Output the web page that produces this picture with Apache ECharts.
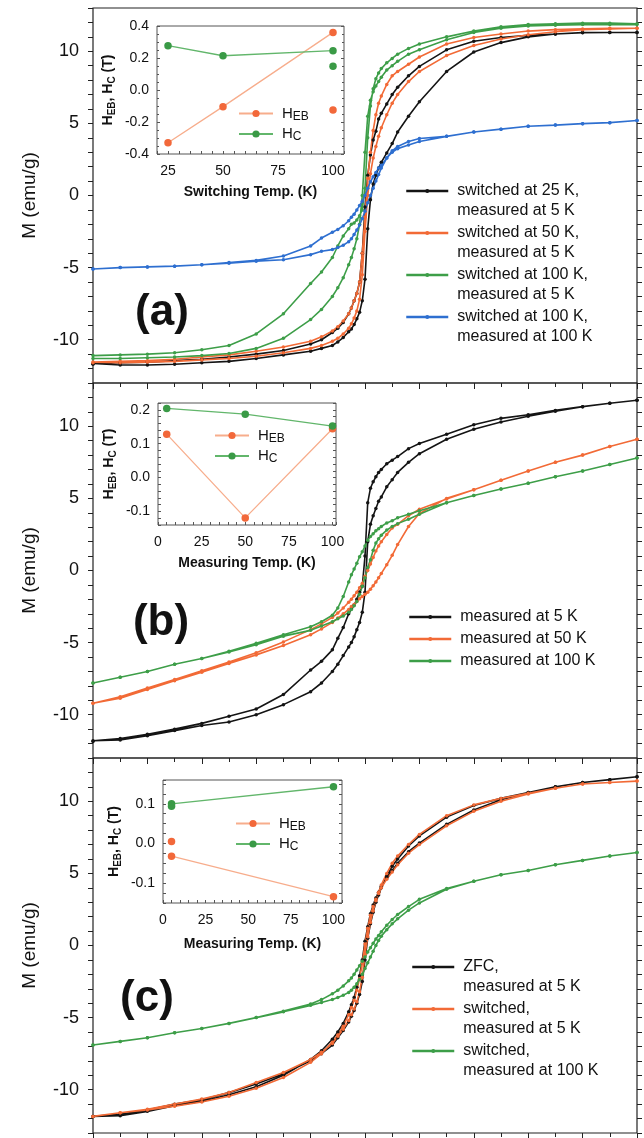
<!DOCTYPE html>
<html lang="en">
<head>
  <meta charset="UTF-8">
  <title>M-H loops</title>
  <style>
    html, body { margin: 0; padding: 0; background: #fff; }
    #main { width: 644px; height: 1138px; }
  </style>
  <script src="https://cdn.jsdelivr.net/npm/echarts@6/dist/echarts.min.js"></script>
</head>
<body>
  <div id="main"></div>
  <script>
    // field steps (T) of the descending branch, the ascending one runs back
    var fieldsDown = [5, 4.5, 4, 3.5, 3, 2.5, 2, 1.5, 1, 0.8, 0.6, 0.5, 0.4, 0.3, 0.25, 0.2, 0.15, 0.1, 0.05, 0,
      -0.05, -0.1, -0.15, -0.2, -0.25, -0.3, -0.4, -0.5, -0.6, -0.8, -1, -1.5, -2, -2.5, -3, -3.5, -4, -4.5, -5];
    var fieldsUp = fieldsDown.slice().reverse();

    // panel (a) – M (emu/g)
    var aBlackDown = [11.3, 11.3, 11.28, 11.2, 11.1, 10.95, 10.7, 10.1, 8.95, 8.3, 7.5, 7.0, 6.35, 5.7, 5.3, 4.45, 3.85, 2.8, 1.4, -0.8,
      -4.0, -6.0, -6.8, -7.3, -7.8, -8.2, -8.8, -9.2, -9.5, -10.0, -10.3, -10.75, -11.0, -11.2, -11.35, -11.45, -11.55, -11.6, -11.65];
    var aBlackUp = [-11.7, -11.75, -11.75, -11.7, -11.6, -11.5, -11.3, -11.05, -10.8, -10.6, -10.4, -10.15, -9.85, -9.45, -9.25, -8.95, -8.55, -8.1, -7.3, -5.8,
      -2.3, -0.3, 0.8, 1.4, 1.9, 2.3, 2.95, 3.6, 4.4, 5.5, 6.5, 8.6, 9.95, 10.6, 11.0, 11.2, 11.3, 11.3, 11.3];
    var aOrangeDown = [11.6, 11.6, 11.55, 11.5, 11.4, 11.2, 10.95, 10.5, 9.6, 9.1, 8.6, 8.3, 7.7, 6.9, 6.4, 5.6, 4.5, 3.0, 1.2, -1.5,
      -4.0, -6.0, -6.8, -7.3, -7.8, -8.2, -8.7, -9.1, -9.4, -9.8, -10.1, -10.5, -10.8, -11.05, -11.2, -11.35, -11.45, -11.5, -11.55];
    var aOrangeUp = [-11.6, -11.6, -11.55, -11.5, -11.4, -11.3, -11.15, -10.9, -10.6, -10.4, -10.1, -9.9, -9.6, -9.2, -8.9, -8.5, -8.0, -7.2, -5.5, -2.5,
      0.0, 1.5, 2.6, 3.4, 4.1, 4.7, 5.6, 6.4, 7.0, 7.9, 8.6, 9.7, 10.4, 10.85, 11.15, 11.35, 11.5, 11.55, 11.6];
    var aGreenDown = [11.9, 11.95, 11.95, 11.9, 11.85, 11.7, 11.4, 11.0, 10.5, 10.2, 9.8, 9.5, 9.2, 8.8, 8.5, 8.1, 7.4, 6.2, 4.0, 0.5,
      -1.0, -1.4, -1.7, -1.9, -2.0, -2.3, -2.8, -3.5, -4.3, -5.3, -6.1, -8.2, -9.6, -10.4, -10.7, -10.9, -11.0, -11.05, -11.1];
    var aGreenUp = [-11.3, -11.3, -11.25, -11.2, -11.1, -10.95, -10.6, -9.9, -8.6, -7.9, -7.0, -6.4, -5.7, -4.8, -4.3, -3.7, -3.0, -2.0, 0.0, 3.0,
      5.5, 6.6, 7.2, 7.6, 7.9, 8.2, 8.7, 9.0, 9.3, 9.8, 10.1, 10.8, 11.3, 11.6, 11.75, 11.8, 11.85, 11.85, 11.85];
    var aBlueDown = [5.2, 5.05, 4.98, 4.88, 4.8, 4.6, 4.4, 4.1, 3.75, 3.5, 3.25, 3.0, 2.6, 2.1, 1.9, 1.6, 1.3, 0.95, 0.5, 0.0,
      -0.4, -0.7, -1.0, -1.3, -1.5, -1.75, -2.1, -2.35, -2.55, -2.95, -3.5, -4.2, -4.5, -4.65, -4.8, -4.9, -4.95, -5.0, -5.1];
    var aBlueUp = [-5.1, -5.0, -4.95, -4.9, -4.8, -4.7, -4.55, -4.45, -4.1, -3.87, -3.75, -3.6, -3.45, -3.2, -3.0, -2.7, -2.4, -2.05, -1.6, -1.1,
      -0.5, 0.0, 0.5, 1.0, 1.45, 1.9, 2.6, 3.1, 3.4, 3.75, 3.95, 4.1, 4.4, 4.6, 4.8, 4.88, 4.98, 5.05, 5.2];

    // panel (b)
    var bBlackDown = [11.8, 11.6, 11.36, 11.1, 10.8, 10.55, 10.1, 9.45, 8.8, 8.45, 7.9, 7.65, 7.4, 7.0, 6.8, 6.5, 6.15, 5.7, 4.7, 1.0,
      -1.1, -1.5, -2.0, -2.4, -2.65, -3.0, -3.95, -4.7, -5.5, -6.3, -6.9, -8.6, -9.6, -10.1, -10.6, -11.0, -11.35, -11.65, -11.8];
    var bBlackUp = [-11.85, -11.75, -11.45, -11.1, -10.75, -10.5, -10.0, -9.3, -8.4, -7.8, -7.0, -6.5, -5.9, -5.3, -5.0, -4.6, -4.1, -3.6, -2.9, -1.5,
      2.0, 3.2, 3.8, 4.3, 4.8, 5.1, 5.8, 6.3, 6.8, 7.5, 8.1, 9.1, 9.8, 10.3, 10.7, 11.05, 11.35, 11.6, 11.8];
    var bOrangeDown = [9.1, 8.6, 8.0, 7.5, 6.9, 6.25, 5.6, 4.95, 4.25, 3.8, 3.2, 2.95, 2.5, 2.0, 1.7, 1.35, 0.9, 0.45, 0.0, -0.4,
      -0.9, -1.2, -1.5, -1.75, -2.0, -2.2, -2.6, -2.95, -3.25, -3.7, -4.1, -4.95, -5.7, -6.35, -6.95, -7.55, -8.15, -8.75, -9.2];
    var bOrangeUp = [-9.2, -8.85, -8.25, -7.65, -7.05, -6.45, -5.85, -5.2, -4.45, -4.05, -3.6, -3.3, -3.0, -2.7, -2.5, -2.35, -2.15, -1.95, -1.8, -1.65,
      -1.5, -1.3, -1.05, -0.8, -0.5, -0.2, 0.4, 1.05, 1.8, 3.05, 3.95, 5.0, 5.6, 6.25, 6.9, 7.5, 8.0, 8.6, 9.1];
    var bGreenDown = [7.8, 7.35, 6.9, 6.5, 6.05, 5.65, 5.2, 4.7, 4.15, 3.9, 3.65, 3.45, 3.3, 3.05, 2.9, 2.75, 2.55, 2.35, 2.1, 1.7,
      1.3, 0.95, 0.5, 0.1, -0.3, -0.8, -1.8, -2.6, -3.1, -3.55, -3.9, -4.45, -5.05, -5.6, -6.1, -6.5, -7.0, -7.4, -7.8];
    var bGreenUp = [-7.8, -7.4, -7.0, -6.5, -6.1, -5.65, -5.15, -4.55, -4.15, -3.85, -3.55, -3.35, -3.15, -2.9, -2.7, -2.45, -2.15, -1.65, -1.1, -0.5,
      0.2, 0.75, 1.4, 1.9, 2.2, 2.45, 2.8, 3.05, 3.25, 3.55, 3.9, 4.7, 5.2, 5.65, 6.05, 6.5, 6.9, 7.35, 7.8];

    // panel (c)
    var cBlackDown = [11.7, 11.5, 11.3, 11.0, 10.6, 10.2, 9.7, 8.9, 7.6, 6.9, 6.0, 5.5, 4.8, 4.0, 3.5, 3.0, 2.3, 1.5, 0.5, -1.0,
      -2.5, -3.4, -4.0, -4.5, -4.9, -5.3, -5.9, -6.4, -6.9, -7.5, -8.0, -8.9, -9.6, -10.2, -10.7, -11.0, -11.4, -11.7, -11.85];
    var cBlackUp = [-11.85, -11.8, -11.5, -11.1, -10.8, -10.35, -9.8, -9.0, -7.9, -7.3, -6.5, -6.0, -5.4, -4.6, -4.1, -3.6, -2.9, -2.1, -1.0, 0.3,
      1.3, 2.2, 2.8, 3.3, 3.7, 4.1, 4.7, 5.2, 5.7, 6.5, 7.1, 8.4, 9.4, 10.1, 10.6, 11.0, 11.3, 11.5, 11.7];
    var cOrangeDown = [11.4, 11.3, 11.2, 10.9, 10.55, 10.2, 9.75, 9.0, 7.7, 7.0, 6.2, 5.7, 5.0, 4.2, 3.7, 3.1, 2.4, 1.6, 0.6, -0.6,
      -2.2, -3.2, -3.9, -4.4, -4.8, -5.2, -5.8, -6.3, -6.8, -7.4, -7.9, -8.8, -9.5, -10.2, -10.65, -11.0, -11.35, -11.6, -11.85];
    var cOrangeUp = [-11.85, -11.6, -11.4, -11.15, -10.85, -10.45, -9.9, -9.15, -8.1, -7.5, -6.7, -6.2, -5.6, -4.8, -4.3, -3.8, -3.1, -2.3, -1.2, 0.1,
      1.2, 2.1, 2.7, 3.2, 3.6, 4.0, 4.6, 5.1, 5.6, 6.4, 7.0, 8.3, 9.3, 10.0, 10.5, 10.9, 11.2, 11.3, 11.4];
    var cGreenDown = [6.45, 6.2, 5.9, 5.6, 5.2, 4.9, 4.45, 3.95, 3.2, 2.7, 2.15, 1.8, 1.4, 0.95, 0.7, 0.45, 0.15, -0.15, -0.45, -0.8,
      -1.1, -1.4, -1.7, -2.0, -2.25, -2.45, -2.8, -3.1, -3.35, -3.75, -4.05, -4.55, -5.0, -5.4, -5.75, -6.05, -6.4, -6.65, -6.9];
    var cGreenUp = [-6.9, -6.65, -6.4, -6.05, -5.75, -5.4, -5.0, -4.6, -4.15, -3.95, -3.75, -3.6, -3.45, -3.25, -3.1, -2.9, -2.65, -2.35, -2.0, -1.6,
      -1.2, -0.8, -0.4, 0.0, 0.35, 0.65, 1.1, 1.5, 1.85, 2.45, 2.95, 3.9, 4.45, 4.9, 5.2, 5.6, 5.9, 6.2, 6.45];

    // insets – HEB / HC (T) against temperature (K)
    var insetTempA = [25, 50, 100];
    var insetHebA = [-0.33, -0.104, 0.36];
    var insetHcA = [0.277, 0.214, 0.246];
    var insetHebAExtra = [[100, -0.125]];
    var insetHcAExtra = [[100, 0.148]];

    var insetTempB = [5, 50, 100];
    var insetHebB = [0.128, -0.119, 0.144];
    var insetHcB = [0.204, 0.187, 0.152];

    var insetTempC = [5, 100];
    var insetHebC = [-0.032, -0.134];
    var insetHcC = [0.1, 0.143];
    var insetHebCExtra = [[5, 0.005]];
    var insetHcCExtra = [[5, 0.094]];

    var namesA = ['switched at 25 K,\nmeasured at 5 K', 'switched at 50 K,\nmeasured at 5 K',
      'switched at 100 K,\nmeasured at 5 K', 'switched at 100 K,\nmeasured at 100 K'];
    var namesB = ['measured at 5 K', 'measured at 50 K', 'measured at 100 K'];
    var namesC = ['ZFC,\nmeasured at 5 K', 'switched,\nmeasured at 5 K', 'switched,\nmeasured at 100 K'];

    var BLACK = '#141414', ORANGE = '#f26a36', GREEN = '#3d9e48', BLUE = '#2e6fd0';
    var FONT = '"Liberation Sans", Arial, Helvetica, sans-serif';

    function loop(down, up) {
      var pts = [];
      fieldsDown.forEach(function (h, i) { pts.push([h, down[i]]); });
      fieldsUp.forEach(function (h, i) { pts.push([h, up[i]]); });
      return pts;
    }
    function zip(xs, ys) {
      return xs.map(function (x, i) { return [x, ys[i]]; });
    }

    var myChart = echarts.init(document.getElementById('main'));

    var grids = [], xAxes = [], yAxes = [], series = [];
    [8, 383, 758].forEach(function (top, i) {
      grids.push({ left: 93, top: top, width: 544, height: 375, show: true, borderColor: '#222', borderWidth: 1.2 });
      xAxes.push({
        gridIndex: i, type: 'value', min: -5, max: 5, interval: 1,
        axisLine: { show: false, onZero: false },
        axisTick: { length: 6, lineStyle: { color: '#222' } },
        minorTick: { show: true, splitNumber: 2, length: 4, lineStyle: { color: '#222' } },
        axisLabel: { show: false }, splitLine: { show: false }
      });
      yAxes.push({
        gridIndex: i, type: 'value', min: -13, max: 13, interval: 1,
        name: 'M (emu/g)', nameLocation: 'middle', nameGap: 54, nameRotate: 90,
        nameTextStyle: { fontSize: 19, color: '#111', fontFamily: FONT },
        axisLine: { show: false, onZero: false },
        axisTick: { length: 5, lineStyle: { color: '#222' } },
        axisLabel: {
          fontSize: 18, color: '#111', margin: 14, fontFamily: FONT,
          formatter: function (v) { return v % 5 === 0 ? String(v) : ''; }
        },
        splitLine: { show: false }
      });
    });
    // right-hand tick rows of the main frames
    [0, 1, 2].forEach(function (i) {
      yAxes.push({
        gridIndex: i, type: 'value', position: 'right', min: -13, max: 13, interval: 1,
        axisLine: { show: false, onZero: false }, axisTick: { length: 5, lineStyle: { color: '#222' } },
        axisLabel: { show: false }, splitLine: { show: false }
      });
    });

    // inset frames
    var insets = [
      { left: 157, top: 26, width: 187, height: 128, xmin: 20, xmax: 105, ymin: -0.4, ymax: 0.4, yint: 0.2, minor: 4, xname: 'Switching Temp. (K)', nameGap: 31, labelMargin: 10 },
      { left: 158, top: 403, width: 178, height: 122, xmin: 0, xmax: 102, ymin: -0.14, ymax: 0.22, yint: 0.02, minor: 0, xname: 'Measuring Temp. (K)', nameGap: 31, labelMargin: 10 },
      { left: 163, top: 780, width: 179, height: 123, xmin: 0, xmax: 105, ymin: -0.15, ymax: 0.16, yint: 0.025, minor: 0, xname: 'Measuring Temp. (K)', nameGap: 34, labelMargin: 10 }
    ];
    var subRich = {
      h: { fontSize: 14, fontWeight: 'bold', fontFamily: FONT, color: '#111', lineHeight: 17 },
      s: { fontSize: 10, fontWeight: 'bold', fontFamily: FONT, color: '#111', lineHeight: 11, verticalAlign: 'bottom' }
    };
    insets.forEach(function (b, k) {
      grids.push({ left: b.left, top: b.top, width: b.width, height: b.height, show: true,
        borderColor: '#555', borderWidth: 1, backgroundColor: '#fff', z: 4 });
      xAxes.push({
        gridIndex: 3 + k, type: 'value', min: b.xmin, max: b.xmax, interval: 5, z: 4,
        name: b.xname, nameLocation: 'middle', nameGap: b.nameGap,
        nameTextStyle: { fontSize: 14, fontWeight: 'bold', color: '#111', fontFamily: FONT },
        axisLine: { show: false, onZero: false },
        axisTick: { inside: true, length: 3, lineStyle: { color: '#555' } },
        axisLabel: {
          fontSize: 14, color: '#111', margin: b.labelMargin, fontFamily: FONT,
          formatter: function (v) { return v % 25 === 0 ? String(v) : ''; }
        },
        splitLine: { show: false }
      });
    });
    insets.forEach(function (b, k) {
      yAxes.push({
        gridIndex: 3 + k, type: 'value', min: b.ymin, max: b.ymax, interval: b.yint, z: 4,
        name: '{h|H}{s|EB}{h|, H}{s|C}{h| (T)}', nameLocation: 'middle', nameGap: 40, nameRotate: 90,
        nameTextStyle: { rich: subRich },
        axisLine: { show: false, onZero: false },
        axisTick: { inside: true, length: 3, lineStyle: { color: '#555' } },
        minorTick: { show: b.minor > 0, splitNumber: b.minor || 5, length: 2, lineStyle: { color: '#555' } },
        axisLabel: {
          fontSize: 14, color: '#111', margin: 8, fontFamily: FONT,
          formatter: function (v) {
            var r = Math.round(v * 10);
            return Math.abs(v * 10 - r) < 1e-6 ? (r / 10).toFixed(1) : '';
          }
        },
        splitLine: { show: false }
      });
    });
    insets.forEach(function (b, k) {
      yAxes.push({
        gridIndex: 3 + k, type: 'value', position: 'right', min: b.ymin, max: b.ymax, interval: b.yint, z: 4,
        axisLine: { show: false, onZero: false },
        axisTick: { inside: true, length: 3, lineStyle: { color: '#555' } },
        minorTick: { show: b.minor > 0, splitNumber: b.minor || 5, length: 2, lineStyle: { color: '#555' } },
        axisLabel: { show: false }, splitLine: { show: false }
      });
    });

    function loopSeries(name, color, panel, down, up) {
      return {
        name: name, type: 'line', xAxisIndex: panel, yAxisIndex: panel,
        data: loop(down, up), symbol: 'circle', symbolSize: 3.5,
        lineStyle: { color: color, width: 1.6 }, itemStyle: { color: color },
        z: 2
      };
    }
    series.push(
      loopSeries(namesA[0], BLACK, 0, aBlackDown, aBlackUp),
      loopSeries(namesA[1], ORANGE, 0, aOrangeDown, aOrangeUp),
      loopSeries(namesA[2], GREEN, 0, aGreenDown, aGreenUp),
      loopSeries(namesA[3], BLUE, 0, aBlueDown, aBlueUp),
      loopSeries(namesB[0], BLACK, 1, bBlackDown, bBlackUp),
      loopSeries(namesB[1], ORANGE, 1, bOrangeDown, bOrangeUp),
      loopSeries(namesB[2], GREEN, 1, bGreenDown, bGreenUp),
      loopSeries(namesC[0], BLACK, 2, cBlackDown, cBlackUp),
      loopSeries(namesC[1], ORANGE, 2, cOrangeDown, cOrangeUp),
      loopSeries(namesC[2], GREEN, 2, cGreenDown, cGreenUp)
    );

    var HEB_LINE = '#f7ad8c', HEB_DOT = '#f2683a', HC_LINE = '#62b66b', HC_DOT = '#3a9a46';
    function insetSeries(name, k, data, type, lineColor, dotColor) {
      return {
        name: name, type: type, xAxisIndex: 3 + k, yAxisIndex: 6 + k, data: data,
        symbol: 'circle', symbolSize: 7.5, z: 5,
        lineStyle: { color: lineColor, width: 1.3 }, itemStyle: { color: dotColor, opacity: 1 }
      };
    }
    series.push(
      insetSeries('HEB', 0, zip(insetTempA, insetHebA), 'line', HEB_LINE, HEB_DOT),
      insetSeries('HC', 0, zip(insetTempA, insetHcA), 'line', HC_LINE, HC_DOT),
      insetSeries('HEB', 0, insetHebAExtra, 'scatter', HEB_LINE, HEB_DOT),
      insetSeries('HC', 0, insetHcAExtra, 'scatter', HC_LINE, HC_DOT),
      insetSeries('HEB', 1, zip(insetTempB, insetHebB), 'line', HEB_LINE, HEB_DOT),
      insetSeries('HC', 1, zip(insetTempB, insetHcB), 'line', HC_LINE, HC_DOT),
      insetSeries('HEB', 2, zip(insetTempC, insetHebC), 'line', HEB_LINE, HEB_DOT),
      insetSeries('HC', 2, zip(insetTempC, insetHcC), 'line', HC_LINE, HC_DOT),
      insetSeries('HEB', 2, insetHebCExtra, 'scatter', HEB_LINE, HEB_DOT),
      insetSeries('HC', 2, insetHcCExtra, 'scatter', HC_LINE, HC_DOT)
    );

    // legends: a blank first line keeps the icon level with the first text line
    function mainLegend(names, left, top, twoLine) {
      return {
        data: names, orient: 'vertical', left: left, top: top, padding: 0,
        itemWidth: 42, itemHeight: 5, itemGap: twoLine ? -18 : 2, selectedMode: false,
        lineStyle: { width: 2.5 },
        formatter: function (n) { return twoLine ? '\n' + n : n; },
        textStyle: { fontSize: 16, color: '#111', fontFamily: FONT, lineHeight: 20, padding: [0, 0, 0, 4] }
      };
    }
    function insetLegend(left, top) {
      return {
        data: ['HEB', 'HC'], orient: 'vertical', left: left, top: top, padding: 0,
        itemWidth: 34, itemHeight: 9, itemGap: 4, selectedMode: false,
        formatter: function (n) { return n === 'HEB' ? '{h|H}{s|EB}' : '{h|H}{s|C}'; },
        textStyle: {
          padding: [0, 0, 0, 4],
          rich: {
            h: { fontSize: 15, fontFamily: FONT, color: '#111', lineHeight: 18 },
            s: { fontSize: 12, fontFamily: FONT, color: '#111', lineHeight: 12, verticalAlign: 'bottom' }
          }
        }
      };
    }

    var option = {
      animation: false,
      textStyle: { fontFamily: FONT },
      grid: grids,
      xAxis: xAxes,
      yAxis: yAxes,
      legend: [
        mainLegend(namesA, 405, 161, true),
        mainLegend(namesB, 408, 607, false),
        mainLegend(namesC, 411, 937, true),
        insetLegend(238, 106),
        insetLegend(214, 428),
        insetLegend(235, 816)
      ],
      graphic: [
        { type: 'text', style: { text: '(a)', x: 162, y: 313, align: 'center', verticalAlign: 'middle', font: 'bold 44px ' + FONT, fill: '#111' } },
        { type: 'text', style: { text: '(b)', x: 161, y: 623, align: 'center', verticalAlign: 'middle', font: 'bold 44px ' + FONT, fill: '#111' } },
        { type: 'text', style: { text: '(c)', x: 147, y: 999, align: 'center', verticalAlign: 'middle', font: 'bold 44px ' + FONT, fill: '#111' } }
      ],
      series: series
    };
    myChart.setOption(option);
  </script>
</body>
</html>
